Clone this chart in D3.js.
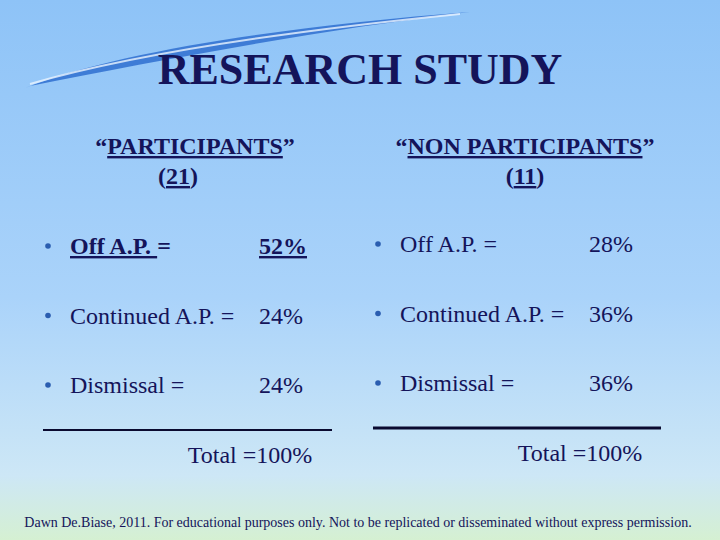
<!DOCTYPE html>
<html><head><meta charset="utf-8">
<script src="https://cdn.jsdelivr.net/npm/d3@7"></script>
<style>body{margin:0;overflow:hidden}text{font-family:"Liberation Serif","Times New Roman",serif}</style>
</head><body>
<script>
var categories = ["Off A.P. =", "Continued A.P. =", "Dismissal ="];
var participants = [52, 24, 24];
var nonParticipants = [28, 36, 36];
var groups = ["PARTICIPANTS", "NON PARTICIPANTS"];
var groupCounts = [21, 11];

var W = 720, H = 540, ink = "#14145a", fs = 24;
var svg = d3.select("body").append("svg").attr("width", W).attr("height", H);
var defs = svg.append("defs");
var bg = defs.append("linearGradient").attr("id", "bg").attr("x1", 0).attr("y1", 0).attr("x2", 0).attr("y2", 1);
bg.append("stop").attr("offset", 0).attr("stop-color", "#8ec3f7");
bg.append("stop").attr("offset", 0.55).attr("stop-color", "#aad3fa");
bg.append("stop").attr("offset", 0.88).attr("stop-color", "#cde7f6");
bg.append("stop").attr("offset", 1).attr("stop-color", "#d5f0d2");
svg.append("rect").attr("width", W).attr("height", H).attr("fill", "url(#bg)");

// swoosh
svg.append("path").attr("d", "M25,88 C120,50 300,25 470,12 C320,30 160,60 30,86 Z").attr("fill", "#2f6fd0").attr("opacity", 0.85);
svg.append("path").attr("d", "M30,84 C140,52 300,30 460,14").attr("fill", "none").attr("stroke", "#eaf4ff").attr("stroke-width", 2).attr("opacity", 0.8);

svg.append("text").attr("x", 360).attr("y", 84).attr("text-anchor", "middle").attr("font-size", 44).attr("font-weight", "bold").attr("fill", ink).text("RESEARCH STUDY");

var colX = d3.scaleOrdinal().domain(groups).range([195, 525]);
var bulletX = d3.scaleOrdinal().domain(groups).range([48, 378]);
var valX = d3.scaleOrdinal().domain(groups).range([259, 589]);
var rowY = d3.scalePoint().domain(categories).range([254, 393]);

groups.forEach(function(g, gi) {
  var t = svg.append("text").attr("x", colX(g)).attr("y", 154).attr("text-anchor", "middle").attr("font-size", fs).attr("font-weight", "bold").attr("fill", ink);
  t.append("tspan").text("\u201C");
  t.append("tspan").attr("text-decoration", "underline").text(g);
  t.append("tspan").text("\u201D");
  var c = svg.append("text").attr("x", colX(g) - (gi ? 0 : 17)).attr("y", 184).attr("text-anchor", "middle").attr("font-size", fs).attr("font-weight", "bold").attr("fill", ink);
  c.append("tspan").text("(");
  c.append("tspan").attr("text-decoration", "underline").text(groupCounts[gi]);
  c.append("tspan").text(")");

  var vals = gi ? nonParticipants : participants;
  var dy = gi ? -2 : 0;
  var rows = svg.append("g").selectAll("g").data(categories).join("g");
  rows.append("circle").attr("cx", bulletX(g)).attr("cy", function(d) { return rowY(d) + dy - 8; }).attr("r", 2.8).attr("fill", "#2a5db0");
  rows.each(function(d, i) {
    var bold = gi === 0 && i === 0;
    var row = d3.select(this);
    var tx = row.append("text").attr("x", bulletX(g) + 22).attr("y", rowY(d) + dy).attr("font-size", fs).attr("fill", ink).attr("font-weight", bold ? "bold" : null);
    if (bold) {
      tx.append("tspan").attr("text-decoration", "underline").text(d.replace("=", ""));
      tx.append("tspan").text("=");
    } else tx.text(d);
    row.append("text").attr("x", valX(g)).attr("y", rowY(d) + dy).attr("font-size", fs).attr("fill", ink)
      .attr("font-weight", bold ? "bold" : null).attr("text-decoration", bold ? "underline" : null).text(vals[i] + "%");
  });
  var total = d3.sum(vals);
  svg.append("line").attr("x1", gi ? 373 : 43).attr("x2", gi ? 661 : 332).attr("y1", gi ? 428 : 430).attr("y2", gi ? 428 : 430)
    .attr("stroke", "#0a0a30").attr("stroke-width", gi ? 3 : 2);
  svg.append("text").attr("x", gi ? 580 : 250).attr("y", gi ? 461 : 463).attr("text-anchor", "middle").attr("font-size", fs).attr("fill", ink).text("Total =" + total + "%");
});

svg.append("text").attr("x", 358).attr("y", 527).attr("text-anchor", "middle").attr("font-size", 14).attr("fill", ink)
  .text("Dawn De.Biase, 2011.  For educational purposes only. Not to be replicated or disseminated without express permission.");
</script>
</body></html>
